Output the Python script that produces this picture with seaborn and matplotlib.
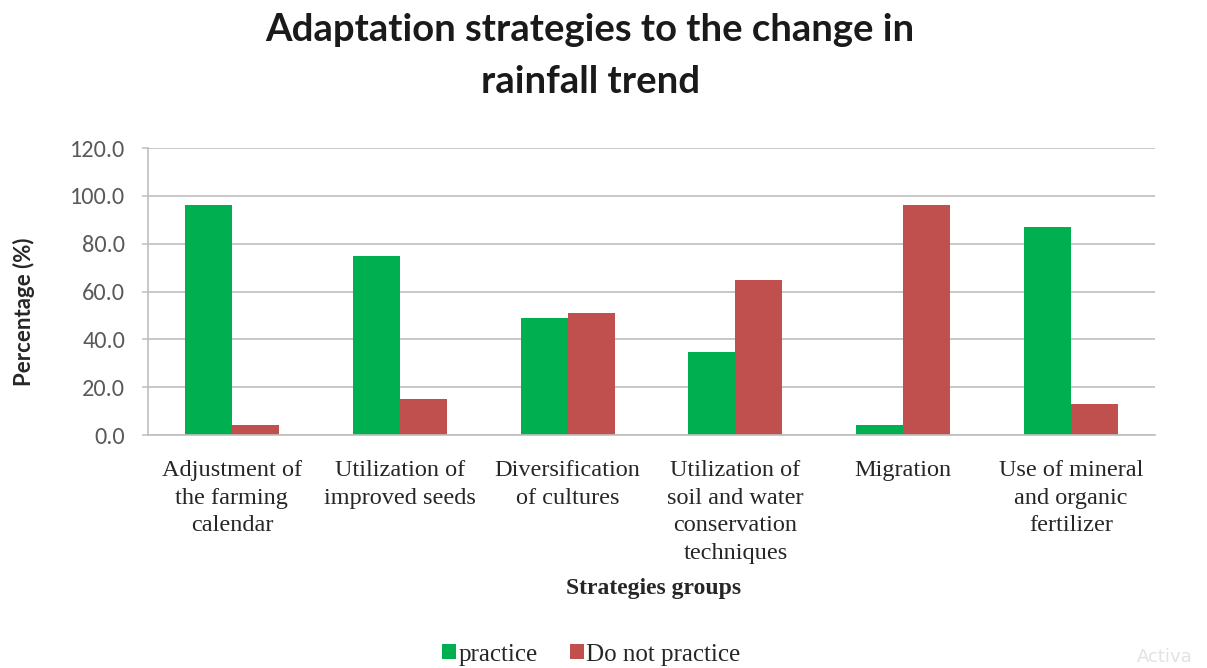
import matplotlib
matplotlib.use("Agg")
import matplotlib.pyplot as plt
from matplotlib.patches import Patch
import seaborn as sns
import pandas as pd

# Survey results (% of respondents)
strategies = [
    "Adjustment of\nthe farming\ncalendar",
    "Utilization of\nimproved seeds",
    "Diversification\nof cultures",
    "Utilization of\nsoil and water\nconservation\ntechniques",
    "Migration",
    "Use of mineral\nand organic\nfertilizer",
]
practice = [96, 75, 49, 34.5, 4, 87]
do_not_practice = [4, 15, 51, 65, 96, 13]
series_names = ["practice", "Do not practice"]
y_ticks = [0, 20, 40, 60, 80, 100, 120]

df = pd.DataFrame({
    "strategy": strategies * 2,
    "group": [series_names[0]] * len(strategies) + [series_names[1]] * len(strategies),
    "value": practice + do_not_practice,
})

sns.set_theme(style="white")
plt.rcParams["font.family"] = ["DejaVu Sans"]

fig = plt.figure(figsize=(12.07, 6.68), dpi=100)
ax = fig.add_axes([0.1226, 0.3488, 0.8344, 0.4296])

palette = {"practice": "#00B050", "Do not practice": "#C0504D"}
sns.barplot(data=df, x="strategy", y="value", hue="group", palette=palette,
            width=0.56, gap=0, saturation=1, linewidth=0, ax=ax, legend=False)

ax.set_ylim(0, 120)
ax.set_xlim(-0.5, len(strategies) - 0.5)
ax.set_yticks(y_ticks)
ax.set_yticklabels([f"{t:.1f}" for t in y_ticks], fontsize=17.5, color="#595959",
                   family=["Carlito", "Lato", "DejaVu Sans"])
ax.yaxis.grid(True, color="#C4C4C4", linewidth=1.3)
ax.set_axisbelow(True)
for side in ("top", "right"):
    ax.spines[side].set_visible(False)
for side in ("left", "bottom"):
    ax.spines[side].set_color("#BFBFBF")
    ax.spines[side].set_linewidth(1.2)
ax.tick_params(axis="y", which="major", left=True, length=4, width=1.1,
               color="#BFBFBF", pad=12.5)
ax.tick_params(axis="x", bottom=False, pad=12)
ax.set_xticks(range(len(strategies)))
ax.set_xticklabels(strategies, fontsize=17.5, color="#262626",
                   family="Liberation Serif", linespacing=1.42, va="top")

ax.set_xlabel("Strategies groups", fontsize=17, fontweight="bold",
              family="Liberation Serif", color="#262626")
ax.set_ylabel("Percentage (%)", fontsize=16, fontweight="bold",
              family=["Lato", "DejaVu Sans"], color="#262626")
ax.xaxis.set_label_coords(0.502, -0.535)
ax.yaxis.set_label_coords(-0.123, 0.4286)
ax.xaxis.label.set_va("center")
ax.yaxis.label.set_va("center")

fig.text(0.489, 0.955, "Adaptation strategies to the change in", ha="center",
         va="center", fontsize=27.5, fontweight="bold", family="Lato", color="#1a1a1a")
fig.text(0.489, 0.877, "rainfall trend", ha="center", va="center",
         fontsize=27.5, fontweight="bold", family="Lato", color="#1a1a1a")

# Legend along the bottom
handles = [Patch(facecolor=palette[n], edgecolor="none") for n in series_names]
fig.legend(handles, series_names, loc="center", bbox_to_anchor=(0.490, 0.020),
           ncol=2, frameon=False, handlelength=0.55, handleheight=0.55,
           handletextpad=0.1, columnspacing=1.3,
           prop={"family": "Liberation Serif", "size": 18})

fig.text(0.942, 0.016, "Activa", ha="left", va="center", fontsize=13,
         color="#E2E2E2", family="DejaVu Sans")

fig.savefig("out.png", dpi=100, facecolor="white")
